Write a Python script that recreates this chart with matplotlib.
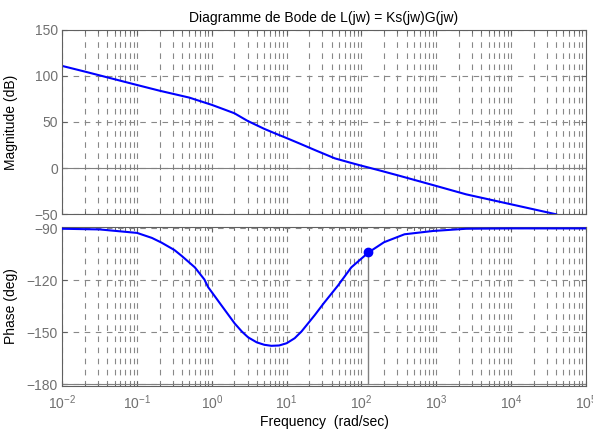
import numpy as np
import matplotlib.pyplot as plt
from matplotlib.ticker import LogLocator, NullFormatter, FixedLocator

plt.rcParams['font.family'] = ['Liberation Sans', 'DejaVu Sans']
plt.rcParams['font.size'] = 10
plt.rcParams['mathtext.default'] = 'regular'

# Courbe de gain
freq_mag = [0.01, 0.02, 0.05, 0.1, 0.2, 0.5, 1, 1.5, 2, 3, 5, 7, 10, 15, 24, 44, 70, 100,
            180, 320, 900, 2500, 4e4]
mag_db = [110.9, 104.8, 96.5, 90.2, 84.0, 76.5, 68.6, 63.3, 59.5, 51.2, 42.6, 37.6, 32.5,
          26.5, 19.4, 10.5, 5.9, 2.5, -2.9, -8.4, -18.5, -28.6, -50.3]

# Courbe de phase
freq_ph = [0.01, 0.0316, 0.1, 0.158, 0.212, 0.316, 0.393, 0.592, 0.794, 0.891, 1.34, 2.02,
           2.51, 3.05, 3.98, 5.01, 6.25, 7.94, 10, 12.8, 15.8, 23.7, 31.6, 48.5, 73.1,
           124, 200, 376, 899, 2510, 1e4, 1e5]
phase_deg = [-90.2, -90.6, -92.6, -95.5, -98.2, -102.5, -105.8, -112.5, -119.5, -123.9,
             -134.4, -144.9, -149.5, -152.9, -155.8, -157.2, -157.8, -157.6, -156.3,
             -153.4, -149.5, -140.1, -133.0, -123.0, -112.5, -103.9, -98.0, -93.4,
             -91.5, -90.2, -90.0, -90.0]

# Marge de phase
w_c = 124
pm_phase = -103.9

mag_ticks = [-50, 0, 50, 100, 150]
ph_ticks = [-180, -150, -120, -90]

gris = '#606060'
gris_txt = '#707070'
bleu = '#0000ff'
tirets = (0, (5, 5))

fig = plt.figure(figsize=(5.93, 4.32), dpi=100)
ax1 = fig.add_axes([0.105, 0.5046, 0.883, 0.426])
ax2 = fig.add_axes([0.105, 0.1065, 0.883, 0.368], sharex=ax1)

for ax in (ax1, ax2):
    ax.set_xscale('log')
    ax.set_xlim(1e-2, 1e5)
    ax.xaxis.set_major_locator(LogLocator(base=10, numticks=20))
    ax.xaxis.set_minor_locator(LogLocator(base=10, subs=np.arange(2, 10), numticks=20))
    ax.xaxis.set_minor_formatter(NullFormatter())
    ax.grid(True, which='both', axis='x', color='#888888', lw=0.8, linestyle=tirets)
    ax.grid(True, which='major', axis='y', color='#888888', lw=0.8, linestyle=tirets)
    ax.tick_params(which='both', direction='in', top=True, right=True, colors=gris,
                   labelcolor=gris_txt)
    ax.tick_params(axis='y', pad=3)
    ax.tick_params(axis='x', pad=5)
    for s in ax.spines.values():
        s.set_color(gris)
    ax.set_axisbelow(True)

ax1.plot(freq_mag, mag_db, color=bleu, lw=1.5)
ax1.axhline(0, color='#808080', lw=0.8, zorder=1)
ax1.set_ylim(-50, 150)
ax1.yaxis.set_major_locator(FixedLocator(mag_ticks))
ax1.tick_params(axis='x', labelbottom=False)
ax1.set_ylabel('Magnitude (dB)')
ax1.yaxis.set_label_coords(-0.085, 0.5)

ax2.plot(freq_ph, phase_deg, color=bleu, lw=1.5, zorder=3)
ax2.axhline(-180, color='#808080', lw=0.8, zorder=1)
ax2.plot([w_c, w_c], [-180, pm_phase], color='#808080', lw=1, zorder=2)
ax2.plot([w_c], [pm_phase], 'o', color=bleu, ms=6, zorder=4)
ax2.set_ylim(-181, -89.2)
ax2.yaxis.set_major_locator(FixedLocator(ph_ticks))
ax2.set_ylabel('Phase (deg)')
ax2.yaxis.set_label_coords(-0.085, 0.5)

fig.text(324 / 593, 1 - 18 / 432, 'Diagramme de Bode de L(jw) = Ks(jw)G(jw)',
         ha='center', va='center')
fig.text(324 / 593, 1 - 422 / 432, 'Frequency  (rad/sec)', ha='center', va='center')

fig.savefig('out.png', dpi=100)
